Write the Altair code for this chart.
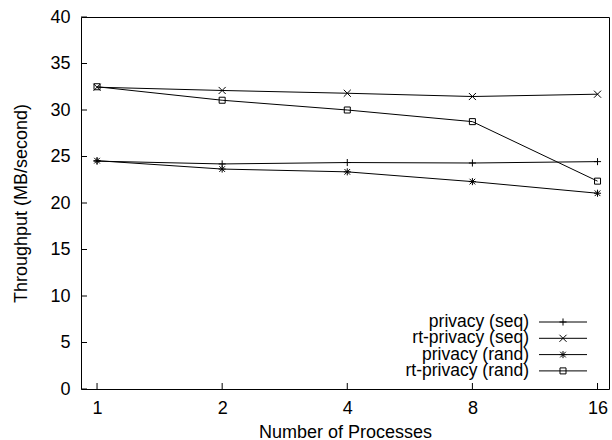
import altair as alt
import pandas as pd

# ---- data ----
procs = [1, 2, 4, 8, 16]
series_names = ["privacy (seq)", "rt-privacy (seq)", "privacy (rand)", "rt-privacy (rand)"]
privacy_seq = [24.5, 24.2, 24.35, 24.3, 24.45]
rt_privacy_seq = [32.45, 32.1, 31.8, 31.45, 31.7]
privacy_rand = [24.55, 23.65, 23.35, 22.3, 21.05]
rt_privacy_rand = [32.5, 31.05, 30.0, 28.75, 22.35]
x_ticks = [1, 2, 4, 8, 16]
y_ticks = [0, 5, 10, 15, 20, 25, 30, 35, 40]

series_values = [privacy_seq, rt_privacy_seq, privacy_rand, rt_privacy_rand]
rows = []
for name, vals in zip(series_names, series_values):
    for p, v in zip(procs, vals):
        rows.append({"series": name, "procs": p, "tp": v})
df = pd.DataFrame(rows)

# ---- style ----
FONT = "Liberation Sans"
FS = 18
LFS = 17.5
W, H = 528, 372
shape_paths = [
    "M-1,0L1,0M0,-1L0,1",                       # plus
    "M-1,-1L1,1M-1,1L1,-1",                     # x
    "M-1,0L1,0M0,-1L0,1M-0.8,-0.8L0.8,0.8M-0.8,0.8L0.8,-0.8",  # asterisk
    "M-0.85,-0.85L0.85,-0.85L0.85,0.85L-0.85,0.85Z",           # square
]

xscale = alt.Scale(type="log", base=2, domain=[0.915, 17.05], nice=False)
yscale = alt.Scale(domain=[0, 40], nice=False)

xenc = alt.X("procs:Q", scale=xscale,
             axis=alt.Axis(values=x_ticks, format="d", title="Number of Processes",
                           grid=False, ticks=False, domain=False, labelPadding=10,
                           titlePadding=6, labelFont=FONT, titleFont=FONT,
                           labelFontSize=FS, titleFontSize=FS, titleFontWeight="normal",
                           labelColor="black", titleColor="black", labelFlush=False))
yenc = alt.Y("tp:Q", scale=yscale,
             axis=alt.Axis(values=y_ticks, title="Throughput (MB/second)",
                           grid=False, ticks=False, domain=False, labelPadding=11,
                           titlePadding=19, labelFont=FONT, titleFont=FONT,
                           labelFontSize=FS, titleFontSize=FS, titleFontWeight="normal",
                           labelColor="black", titleColor="black", labelFlush=False))

shape_scale = alt.Scale(domain=series_names, range=shape_paths)

lines = alt.Chart(df).mark_line(color="black", strokeWidth=1).encode(
    x=xenc, y=yenc, detail="series:N")
points = alt.Chart(df).mark_point(filled=False, color="black", strokeWidth=1, size=50, opacity=1).encode(
    x=alt.X("procs:Q", scale=xscale), y=alt.Y("tp:Q", scale=yscale),
    shape=alt.Shape("series:N", scale=shape_scale, legend=None))

# inward ticks
xt = pd.DataFrame({"procs": x_ticks})
yt = pd.DataFrame({"tp": y_ticks})
xtick_layer = alt.Chart(xt).mark_rule(color="black", strokeWidth=1).encode(
    x=alt.X("procs:Q", scale=xscale), y=alt.value(H), y2=alt.value(H - 6))
ytick_layer = alt.Chart(yt).mark_rule(color="black", strokeWidth=1).encode(
    y=alt.Y("tp:Q", scale=yscale), x=alt.value(0), x2=alt.value(6))

# legend (inside, bottom right)
legend_layers = []
for i, name in enumerate(series_names):
    ly = 305 + 16.3 * i
    ld = pd.DataFrame({"series": [name]})
    legend_layers.append(alt.Chart(ld).mark_text(align="right", baseline="middle", font=FONT,
                                                 fontSize=LFS, color="black").encode(
        x=alt.value(448), y=alt.value(ly), text="series:N"))
    legend_layers.append(alt.Chart(ld).mark_rule(color="black", strokeWidth=1).encode(
        x=alt.value(458), x2=alt.value(506), y=alt.value(ly)))
    legend_layers.append(alt.Chart(ld).mark_point(filled=False, color="black", strokeWidth=1,
                                                  size=50, opacity=1).encode(
        x=alt.value(482), y=alt.value(ly),
        shape=alt.Shape("series:N", scale=shape_scale, legend=None)))

chart = alt.layer(lines, points, xtick_layer, ytick_layer, *legend_layers).properties(
    width=W, height=H,
    autosize=alt.AutoSizeParams(type="none"),
    padding={"left": 81, "top": 17, "right": 3, "bottom": 51},
    background="white",
).configure_view(stroke="black", strokeWidth=1)

chart.save("out.html", embed_options={"renderer": "svg", "actions": False})
